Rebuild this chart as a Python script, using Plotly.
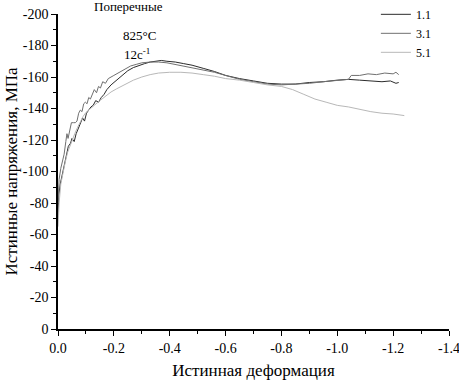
import plotly.graph_objects as go

# ---- data ----
x_11 = [0.000, -0.003, -0.008, -0.015, -0.022, -0.030, -0.037, -0.045, -0.050, -0.058,
        -0.065, -0.072, -0.080, -0.088, -0.095, -0.102, -0.110, -0.118, -0.126, -0.135,
        -0.145, -0.155, -0.165, -0.175, -0.19, -0.21, -0.23, -0.25, -0.27, -0.29,
        -0.31, -0.33, -0.35, -0.37, -0.39, -0.42, -0.45, -0.48, -0.52, -0.56,
        -0.60, -0.65, -0.70, -0.75, -0.80, -0.85, -0.90, -0.95, -1.00, -1.04,
        -1.08, -1.12, -1.16, -1.19, -1.21, -1.22]
y_11 = [-72, -85, -92, -98, -103, -110, -116, -118, -121, -119,
        -124, -127, -131, -134, -132, -137, -139, -141, -142, -145,
        -144, -147, -149, -152, -155, -158, -161, -164, -166, -167.5,
        -168.5, -169.5, -170, -170.5, -170, -169.5, -168.5, -167.5, -165.5, -163.5,
        -161, -159, -157.5, -156, -155.5, -155.5, -156.5, -157, -158, -158.5,
        -158, -157.5, -157, -157.5, -156, -156.5]

x_31 = [0.000, -0.004, -0.010, -0.016, -0.022, -0.028, -0.032, -0.036, -0.042, -0.048,
        -0.055, -0.062, -0.068, -0.074, -0.080, -0.086, -0.092, -0.098, -0.104, -0.110,
        -0.116, -0.122, -0.130, -0.138, -0.145, -0.152, -0.160, -0.170, -0.18, -0.20,
        -0.22, -0.24, -0.26, -0.28, -0.30, -0.33, -0.36, -0.39, -0.42, -0.45,
        -0.48, -0.52, -0.56, -0.60, -0.65, -0.70, -0.75, -0.80, -0.85, -0.90,
        -0.95, -1.00, -1.04, -1.05, -1.08, -1.11, -1.14, -1.17, -1.20, -1.21, -1.22]
y_31 = [-80, -95, -102, -106, -111, -119, -124, -121, -126, -131,
        -131, -131, -132, -137, -139, -138, -143, -144, -143, -147,
        -146, -149, -152, -150, -154, -153, -157, -156, -159, -161,
        -163, -165, -167, -168, -169, -169.5, -169.5, -169, -168, -167,
        -166, -164.5, -163, -161, -158.5, -157, -155.5, -155, -155.5, -156,
        -157, -158, -158.5, -161, -161, -162, -161.5, -162.5, -162, -163, -161.5]

x_51 = [0.000, -0.004, -0.010, -0.018, -0.026, -0.034, -0.042, -0.050, -0.060, -0.070,
        -0.080, -0.090, -0.100, -0.115, -0.130, -0.150, -0.17, -0.19, -0.21, -0.24,
        -0.27, -0.30, -0.33, -0.36, -0.40, -0.44, -0.48, -0.52, -0.56, -0.60,
        -0.65, -0.70, -0.75, -0.80, -0.84, -0.88, -0.92, -0.96, -1.00, -1.04,
        -1.08, -1.12, -1.16, -1.20, -1.24]
y_51 = [-65, -80, -92, -100, -106, -112, -116, -120, -124, -128,
        -132, -135, -137.5, -140, -142, -145, -148, -150.5, -152.5, -155.5,
        -158, -160, -161.5, -162.5, -163, -163, -162.5, -161.5, -160.5, -159,
        -158, -156.5, -155, -154, -152, -149, -146, -144, -142, -141,
        -139.5, -138, -137, -136.5, -135.5]

series_names = ["1.1", "3.1", "5.1"]
x_tickvals = [0.0, -0.2, -0.4, -0.6, -0.8, -1.0, -1.2, -1.4]
x_ticktext = ["0.0", "-0.2", "-0.4", "-0.6", "-0.8", "-1.0", "-1.2", "-1.4"]
y_tickvals = [0, -20, -40, -60, -80, -100, -120, -140, -160, -180, -200]
y_ticktext = ["0", "-20", "-40", "-60", "-80", "-100", "-120", "-140", "-160", "-180", "-200"]

FONT = "Liberation Serif"
colors = ["#2b2b2b", "#707070", "#b8b8b8"]

W, H = 459, 380
L, T, PW, PH = 58, 14, 391, 315
R = W - L - PW
B = H - T - PH

fig = go.Figure()
for xs, ys, name, c in zip([x_11, x_31, x_51], [y_11, y_31, y_51], series_names, colors):
    fig.add_trace(go.Scatter(x=xs, y=ys, mode="lines", name=name,
                             line=dict(color=c, width=1)))

axis_common = dict(
    showgrid=False, zeroline=False, showline=True, linecolor="black", linewidth=1.5,
    ticks="outside", ticklen=5, tickwidth=1.2, tickcolor="black",
    tickfont=dict(family=FONT, size=14, color="black"),
    mirror=False, automargin=False, ticklabeloverflow="allow",
)

fig.update_xaxes(range=[0, -1.4], tickvals=x_tickvals, ticktext=x_ticktext,
                 minor=dict(dtick=0.1, ticks="outside", ticklen=3, tickcolor="black", tickwidth=1),
                 title=dict(text="Истинная деформация", font=dict(family=FONT, size=17, color="black"),
                            standoff=10),
                 **axis_common)
fig.update_yaxes(range=[0, -200], tickvals=y_tickvals, ticktext=y_ticktext,
                 minor=dict(dtick=10, ticks="outside", ticklen=3, tickcolor="black", tickwidth=1),
                 title=dict(text="Истинные напряжения, МПа", font=dict(family=FONT, size=17, color="black"),
                            standoff=1),
                 **axis_common)

annotations = [
    dict(text="Поперечные", px=128, py=6, size=13),
    dict(text="825°C", px=139, py=36, size=13),
    dict(text="12c<sup>-1</sup>", px=137, py=54, size=13),
]
for a in annotations:
    fig.add_annotation(text=a["text"],
                       x=(a["px"] - L) / PW, y=(PH - (a["py"] - T)) / PH,
                       xref="paper", yref="paper",
                       showarrow=False, xanchor="center", yanchor="middle",
                       font=dict(family=FONT, size=a["size"], color="black"))

fig.update_layout(
    width=W, height=H,
    margin=dict(l=L, r=R, t=T, b=B, autoexpand=False),
    paper_bgcolor="white", plot_bgcolor="white",
    font=dict(family=FONT, size=12, color="black"),
    legend=dict(x=0.813, y=1.045, xanchor="left", yanchor="top",
                bgcolor="rgba(0,0,0,0)", font=dict(family=FONT, size=12, color="black"),
                tracegroupgap=0, itemwidth=30),
    showlegend=True,
)

fig.write_html("out.html", config={"displayModeBar": False},
               post_script="document.body.style.margin='0px';")
